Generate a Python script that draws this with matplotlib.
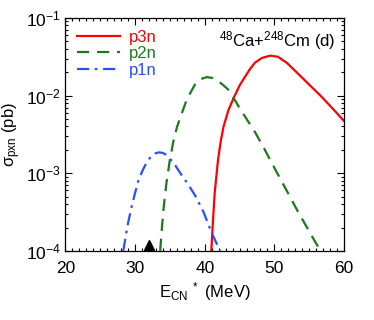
import numpy as np
import matplotlib
matplotlib.use("Agg")
import matplotlib.pyplot as plt
from matplotlib.ticker import MultipleLocator, LogLocator, NullFormatter

plt.rcParams['font.family'] = ['Liberation Sans', 'DejaVu Sans']
plt.rcParams['mathtext.fontset'] = 'custom'
plt.rcParams['mathtext.rm'] = 'Liberation Sans'
plt.rcParams['mathtext.it'] = 'Liberation Sans'

# E* (MeV), sigma (pb)
e_p3n = [40.94, 41.13, 41.42, 41.9, 42.3, 42.7, 43.4, 44.15, 45.0, 45.8, 46.5, 47.2, 48.2, 49.4,
         50.5, 51.8, 53.3, 55.0, 56.7, 58.3, 60.0]
s_p3n = [1e-4, 2.06e-4, 5.5e-4, 1.48e-3, 2.6e-3, 4.0e-3, 6.5e-3, 9.3e-3, 0.0135, 0.0176, 0.022, 0.0265, 0.0305, 0.0327,
         0.0316, 0.0263, 0.0195, 0.0138, 0.0098, 0.0069, 0.0047]

e_p2n = [33.6, 33.85, 34.1, 34.5, 35.0, 35.5, 36.0, 36.7, 37.3, 37.9, 38.6, 39.4, 40.3, 41.2, 42.0, 42.8,
         43.7, 44.15, 45.0, 46.0, 47.2, 48.5, 50.0, 51.5, 53.3, 55.0, 56.6]
s_p2n = [1e-4, 2.0e-4, 3.6e-4, 7.5e-4, 1.5e-3, 2.6e-3, 3.9e-3, 5.9e-3, 8.3e-3, 0.0107, 0.0139, 0.0163, 0.0173, 0.0168, 0.0152, 0.0133,
         0.0112, 0.0093, 0.0069, 0.0050, 0.0034, 0.0021, 0.00117, 0.00066, 0.00033, 0.000178, 1e-4]

e_p1n = [28.3, 28.9, 29.5, 30.0, 30.5, 31.1, 31.7, 32.3, 32.9, 33.3, 33.6, 34.0, 34.5, 35.5, 36.5, 37.6,
         38.6, 39.8, 41.0, 42.2]
s_p1n = [1e-4, 2.1e-4, 3.7e-4, 5.6e-4, 8.2e-4, 1.1e-3, 1.4e-3, 1.65e-3, 1.8e-3, 1.85e-3, 1.85e-3, 1.82e-3, 1.72e-3, 1.37e-3, 1.0e-3, 7.2e-4,
         5.2e-4, 3.2e-4, 1.7e-4, 1e-4]

e_exp = [32.0]

fig = plt.figure(figsize=(3.74, 3.2), dpi=100)
ax = fig.add_axes([0.175, 0.216, 0.745, 0.728])

ax.plot(e_p3n, s_p3n, color='#ff0000', lw=1.6, ls='-', label='p3n')
ax.plot(e_p2n, s_p2n, color='#1b7a1b', lw=1.6, ls=(0, (5.5, 3.5)), label='p2n')
ax.plot(e_p1n, s_p1n, color='#2a4fff', lw=1.6, ls=(0, (5.5, 2.5, 1.2, 2.5)), label='p1n')

# experimental energy marker on the bottom axis
ax.plot(e_exp, [0.025], marker='^', ms=7, color='black', ls='none',
        transform=ax.get_xaxis_transform(), clip_on=False)

ax.set_yscale('log')
ax.set_xlim(20, 60)
ax.set_ylim(1e-4, 1e-1)
ax.xaxis.set_major_locator(MultipleLocator(10))
ax.xaxis.set_minor_locator(MultipleLocator(1))
ax.yaxis.set_major_locator(LogLocator(base=10))
ax.yaxis.set_minor_locator(LogLocator(base=10, subs=np.arange(2, 10)))
ax.yaxis.set_minor_formatter(NullFormatter())
ax.tick_params(which='both', direction='in', top=True, right=True, labelsize=12.5, width=0.8)
ax.tick_params(which='major', length=5)
ax.tick_params(which='minor', length=2.5)
ax.tick_params(axis='x', pad=7)
for sp in ax.spines.values():
    sp.set_linewidth(0.9)

ax.set_xlabel(r'E$_{\rm CN}$$^{\ *}$ (MeV)', fontsize=12, labelpad=3)
ax.set_ylabel(r'σ$_{\rm pxn}$ (pb)', fontsize=12, labelpad=2)

ax.text(0.97, 0.95, r'$^{48}$Ca+$^{248}$Cm (d)', transform=ax.transAxes,
        ha='right', va='top', fontsize=12)

ax.legend(loc='upper left', frameon=False, fontsize=12, handlelength=2.6,
          labelcolor='linecolor', borderaxespad=0.3, labelspacing=0.1,
          handletextpad=0.5)

fig.savefig('out.png', dpi=100)
